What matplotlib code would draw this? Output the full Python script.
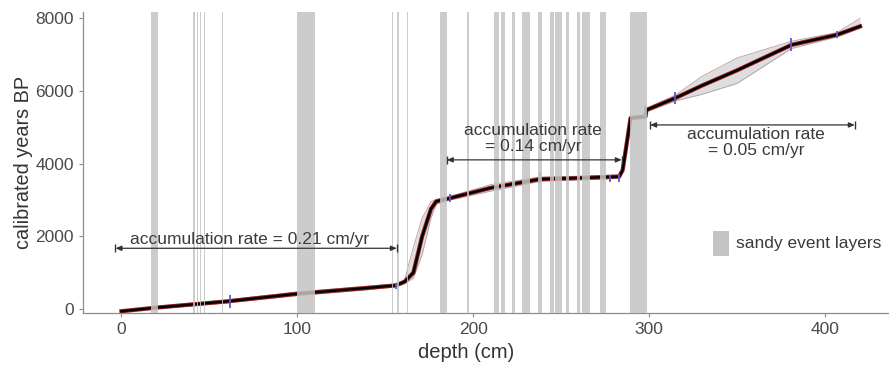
#!/usr/bin/env python3
import matplotlib

matplotlib.use("Agg")
import matplotlib.pyplot as plt
from matplotlib.patches import Rectangle

plt.rcParams["font.family"] = ["Liberation Sans", "DejaVu Sans"]

# sandy event layers: (top depth, bottom depth) in cm
layer_top = [16.9, 40.9, 42.8, 44.7, 46.9, 56.9, 99.8, 153.7, 156.8, 162.3,
             180.9, 196.4, 211.9, 215.9, 222.0, 227.8, 237.1, 243.8, 246.6,
             252.8, 258.9, 261.8, 272.2, 289.2]
layer_bot = [21.0, 41.7, 43.6, 45.5, 47.7, 57.7, 109.8, 154.5, 157.6, 163.1,
             185.1, 197.9, 214.9, 218.2, 223.7, 232.4, 239.0, 246.0, 250.4,
             254.7, 260.8, 266.5, 275.6, 298.7]

# age-depth model (median) and its range
depth = [0, 20, 60, 100, 140, 156, 161, 166, 171, 176, 179, 187, 210, 238,
         260, 283, 285, 289.5, 298, 298.5, 315, 330, 350, 381, 407, 420]
age = [-60, 40, 210, 420, 580, 650, 750, 1000, 2000, 2750, 2960, 3050, 3330,
       3570, 3600, 3640, 3820, 5250, 5290, 5470, 5800, 6140, 6560, 7260,
       7540, 7770]
age_hi = [-40, 70, 250, 470, 630, 690, 800, 1700, 2500, 2950, 3010, 3100,
          3420, 3630, 3650, 3690, 3880, 5300, 5330, 5520, 5880, 6390, 6900,
          7360, 7600, 7990]
age_lo = [-80, 10, 170, 370, 530, 610, 700, 850, 1500, 2500, 2880, 3000,
          3240, 3510, 3550, 3590, 3760, 5200, 5250, 5420, 5720, 5900, 6200,
          7160, 7480, 7720]

# dated samples
date_depth = [62, 156, 187, 238, 278, 283, 297.5, 315, 381, 407]
date_age = [200, 640, 3050, 3620, 3590, 3600, 5430, 5800, 7270, 7550]
date_err = [180, 80, 120, 150, 100, 120, 150, 160, 170, 90]

# accumulation rate annotations
rate_start = [-3.4, 185.0, 300.6]
rate_end = [156.6, 284.5, 417.0]
rate_y = [1670, 4100, 5060]
rate_text = ["accumulation rate = 0.21 cm/yr",
             "accumulation rate\n= 0.14 cm/yr",
             "accumulation rate\n= 0.05 cm/yr"]
rate_tx = [73, 234, 361]
rate_ty = [1915, 4680, 4570]


def main():
    fig = plt.figure(figsize=(8.9, 3.74), dpi=100)
    ax = fig.add_axes([0.093, 0.163, 0.905, 0.805])

    # uncertainty band and median curve
    ax.fill_between(depth, age_lo, age_hi, color="#dedede", lw=0, zorder=1)
    ax.plot(depth, age_hi, color="#c4a6a6", lw=0.7, zorder=2)
    ax.plot(depth, age_lo, color="#b0aaaa", lw=0.7, zorder=2)
    ax.plot(depth, age, color="#8b1a1a", lw=3.0, zorder=3)
    ax.plot(depth, age, color="black", lw=1.6, zorder=4)

    # dates
    ax.errorbar(date_depth, date_age, yerr=date_err, fmt="none",
                ecolor="#5a5ad0", elinewidth=1.3, zorder=5)

    # event layers drawn over the curve
    for top, bot in zip(layer_top, layer_bot):
        ax.axvspan(top, bot, color="#c4c4c4", alpha=0.85, lw=0, zorder=6)

    # accumulation rate arrows
    for x0, x1, y in zip(rate_start, rate_end, rate_y):
        ax.annotate("", xy=(x1, y), xytext=(x0, y),
                    arrowprops=dict(arrowstyle="<|-|>,head_length=0.35,head_width=0.15",
                                    color="#333333", lw=0.9, shrinkA=0, shrinkB=0),
                    zorder=7)
        ax.plot([x0, x1], [y, y], ls="none", marker="|", ms=6,
                mew=1.0, color="#333333", zorder=7)
    for x, y, s in zip(rate_tx, rate_ty, rate_text):
        ax.text(x, y, s, ha="center", va="center", fontsize=12.5,
                color="#3a3a3a", linespacing=1.05, zorder=8)

    # legend
    ax.add_patch(Rectangle((0.782, 0.189), 0.020, 0.083,
                           transform=ax.transAxes, color="#c4c4c4",
                           lw=0, zorder=8))
    ax.text(0.811, 0.232, "sandy event layers", transform=ax.transAxes,
            ha="left", va="center", fontsize=12.5, color="#3a3a3a")

    ax.set_xlim(-22, 436)
    ax.set_ylim(-110, 8165)
    ax.set_xticks([0, 100, 200, 300, 400])
    ax.set_yticks([0, 2000, 4000, 6000, 8000])
    for side in ["top", "right"]:
        ax.spines[side].set_visible(False)
    for side in ["left", "bottom"]:
        ax.spines[side].set_color("#8c8c8c")
        ax.spines[side].set_linewidth(0.9)
    ax.tick_params(colors="#8c8c8c", labelcolor="#4a4a4a", labelsize=12.5,
                   length=3, width=0.8)

    ax.set_xlabel("depth (cm)", fontsize=14.5, color="#333333")
    ax.set_ylabel("calibrated years BP", fontsize=14.3, color="#333333")
    ax.xaxis.set_label_coords(0.476, -0.10)
    ax.yaxis.set_label_coords(-0.062, 0.5)

    fig.savefig("out.png", dpi=100)


if __name__ == "__main__":
    main()
